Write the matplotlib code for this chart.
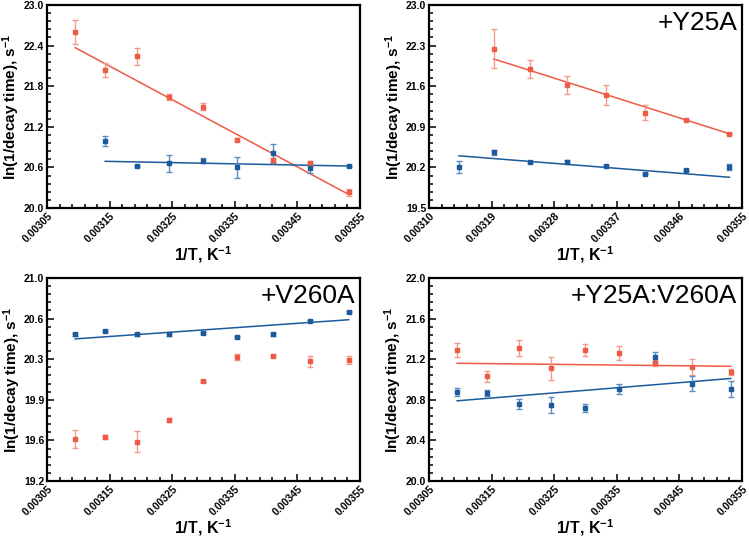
import matplotlib
matplotlib.use('Agg')
import matplotlib.pyplot as plt
from matplotlib.ticker import FixedLocator, FormatStrFormatter
import numpy as np

plt.rcParams['font.family'] = ['Liberation Sans', 'DejaVu Sans']
plt.rcParams['mathtext.fontset'] = 'custom'
plt.rcParams['mathtext.rm'] = 'Liberation Sans'
plt.rcParams['mathtext.bf'] = 'Liberation Sans:bold'
plt.rcParams['mathtext.default'] = 'bf'

# 1/T values (K^-1), 50 .. 10 C
inv_T = [0.003095, 0.003143, 0.003193, 0.003245, 0.003299, 0.003354, 0.003411, 0.003470, 0.003532]

# panel 1 (no tag)
p1_red_x = inv_T
p1_red_y = [22.60, 22.04, 22.24, 21.64, 21.50, 21.01, 20.71, 20.66, 20.23]
p1_red_err = [0.18, 0.11, 0.12, 0.04, 0.05, 0.02, 0.03, 0.04, 0.05]
p1_red_fit = [22.37, 20.20]
p1_blue_x = inv_T[1:]
p1_blue_y = [20.99, 20.62, 20.66, 20.70, 20.60, 20.81, 20.59, 20.62]
p1_blue_err = [0.07, 0.02, 0.13, 0.04, 0.16, 0.14, 0.08, 0.02]
p1_blue_fit = [20.69, 20.62]

# panel 2, +Y25A
p2_red_x = inv_T[2:]
p2_red_y = [22.25, 21.90, 21.62, 21.45, 21.14, 21.02, 20.78]
p2_red_err = [0.34, 0.15, 0.15, 0.17, 0.13, 0.01, 0.01]
p2_red_fit = [22.07, 20.78]
p2_blue_x = inv_T[1:]
p2_blue_y = [20.21, 20.46, 20.29, 20.30, 20.23, 20.09, 20.15, 20.21]
p2_blue_err = [0.10, 0.04, 0.02, 0.03, 0.02, 0.01, 0.01, 0.05]
p2_blue_fit = [20.40, 20.03]

# panel 3, +V260A (red has no fit)
p3_red_x = inv_T
p3_red_y = [19.57, 19.59, 19.55, 19.74, 20.09, 20.30, 20.31, 20.26, 20.27]
p3_red_err = [0.08, 0.02, 0.09, 0.015, 0.01, 0.03, 0.01, 0.045, 0.035]
p3_blue_x = inv_T
p3_blue_y = [20.50, 20.53, 20.50, 20.50, 20.51, 20.48, 20.50, 20.62, 20.70]
p3_blue_err = [0.01, 0.01, 0.01, 0.01, 0.01, 0.01, 0.01, 0.01, 0.01]
p3_blue_fit = [20.46, 20.63]

# panel 4, +Y25A:V260A
p4_red_x = inv_T
p4_red_y = [21.29, 21.03, 21.31, 21.11, 21.29, 21.26, 21.16, 21.12, 21.07]
p4_red_err = [0.07, 0.05, 0.08, 0.11, 0.06, 0.07, 0.03, 0.08, 0.03]
p4_red_fit = [21.16, 21.13]
p4_blue_x = inv_T
p4_blue_y = [20.88, 20.87, 20.76, 20.75, 20.72, 20.91, 21.22, 20.96, 20.91]
p4_blue_err = [0.04, 0.03, 0.05, 0.08, 0.04, 0.05, 0.05, 0.07, 0.08]
p4_blue_fit = [20.79, 21.01]

red = '#ee5a43'
red_e = '#f29a8c'
blue = '#1c5a9c'
blue_e = '#5d8cc4'

fig = plt.figure(figsize=(7.49, 5.37), dpi=100)

def ticks(lo, hi, step):
  return np.round(np.arange(lo, hi + step / 2, step), 7)

def setup(ax, xlim, xstep, ylim, ystep, tag):
  ax.set_xlim(xlim)
  ax.set_ylim(ylim)
  ax.xaxis.set_major_locator(FixedLocator(ticks(xlim[0], xlim[1], xstep)))
  ax.xaxis.set_minor_locator(FixedLocator(ticks(xlim[0], xlim[1], xstep / 5)))
  ax.yaxis.set_major_locator(FixedLocator(ticks(ylim[0], ylim[1], ystep)))
  ax.yaxis.set_minor_locator(FixedLocator(ticks(ylim[0], ylim[1], ystep / 5)))
  ax.xaxis.set_major_formatter(FormatStrFormatter('%.5f'))
  ax.yaxis.set_major_formatter(FormatStrFormatter('%.1f'))
  ax.tick_params(which='both', direction='in', top=False, right=False, width=1.1)
  ax.tick_params(which='major', length=5, labelsize=7.5, pad=2)
  ax.tick_params(which='minor', length=3)
  for lab in ax.get_xticklabels():
    lab.set_rotation(45)
    lab.set_ha('right')
    lab.set_rotation_mode('anchor')
    lab.set_fontweight('bold')
  for lab in ax.get_yticklabels():
    lab.set_fontweight('bold')
  for s in ax.spines.values():
    s.set_linewidth(1.6)
  ax.set_xlabel(r'1/T, K$^{-1}$', fontsize=11.5, fontweight='bold', labelpad=0)
  ax.set_ylabel(r'ln(1/decay time), s$^{-1}$', fontsize=11, fontweight='bold', labelpad=1)
  if tag:
    ax.text(0.985, 0.97, tag, transform=ax.transAxes, ha='right', va='top', fontsize=19)

def series(ax, x, y, err, c, ce, fit=None):
  ax.errorbar(x, y, yerr=err, fmt='s', ms=3, color=c, ecolor=ce, elinewidth=1,
              capsize=2, capthick=1, zorder=3)
  if fit is not None:
    ax.plot([x[0], x[-1]], fit, color=c, lw=1.1, zorder=2)

W = 313 / 749.
H = 203 / 537.
ax1 = fig.add_axes([47 / 749., 1 - 208 / 537., W, H])
ax2 = fig.add_axes([429 / 749., 1 - 208 / 537., W, H])
ax3 = fig.add_axes([47 / 749., 1 - 481 / 537., W, H])
ax4 = fig.add_axes([429 / 749., 1 - 481 / 537., W, H])

series(ax1, p1_red_x, p1_red_y, p1_red_err, red, red_e, p1_red_fit)
series(ax1, p1_blue_x, p1_blue_y, p1_blue_err, blue, blue_e, p1_blue_fit)
series(ax2, p2_red_x, p2_red_y, p2_red_err, red, red_e, p2_red_fit)
series(ax2, p2_blue_x, p2_blue_y, p2_blue_err, blue, blue_e, p2_blue_fit)
series(ax3, p3_red_x, p3_red_y, p3_red_err, red, red_e)
series(ax3, p3_blue_x, p3_blue_y, p3_blue_err, blue, blue_e, p3_blue_fit)
series(ax4, p4_red_x, p4_red_y, p4_red_err, red, red_e, p4_red_fit)
series(ax4, p4_blue_x, p4_blue_y, p4_blue_err, blue, blue_e, p4_blue_fit)

setup(ax1, (0.00305, 0.00355), 0.0001, (20.0, 23.0), 0.6, None)
setup(ax2, (0.00310, 0.00355), 0.00009, (19.5, 23.0), 0.7, '+Y25A')
setup(ax3, (0.00305, 0.00355), 0.0001, (19.2, 21.0), 0.36, '+V260A')
setup(ax4, (0.00305, 0.00355), 0.0001, (20.0, 22.0), 0.4, '+Y25A:V260A')

plt.savefig('out.png', dpi=100)
